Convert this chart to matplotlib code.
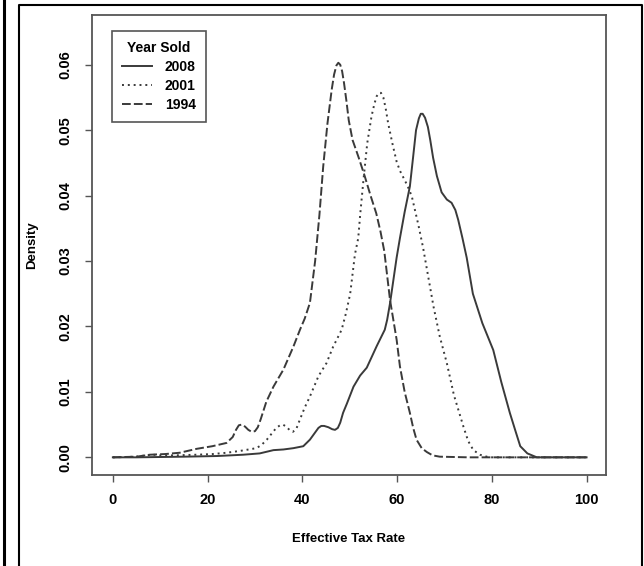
import matplotlib
matplotlib.use("Agg")
import matplotlib.pyplot as plt
from matplotlib.lines import Line2D

plt.rcParams['font.family'] = ['Liberation Sans', 'DejaVu Sans']
plt.rcParams['font.weight'] = 'bold'

# density curves (effective tax rate vs density)
x2008 = [0, 5, 15, 22, 27.5, 31, 33.9, 36, 38.1, 40.2, 41.6, 42.7, 43.4, 44.0, 44.6,
         45.5, 46.3, 46.9, 47.5, 48.0, 48.6, 49.4, 50.8, 52.2, 53.6, 55.7, 57.4, 57.9,
         58.5, 59.2, 59.9, 60.6, 61.6, 62.7, 63.4, 64.0, 64.6, 65.0, 65.4, 65.9, 66.5,
         67.0, 67.6, 68.4, 69.4, 70.5, 71.5, 72.3, 72.9, 73.8, 74.7, 76, 78, 80.3, 82,
         83.8, 85, 86, 87.5, 89.5, 100]
y2008 = [0, 0, 0.0001, 0.0002, 0.0004, 0.0006, 0.0011, 0.0012, 0.0014, 0.0017, 0.0027,
         0.0038, 0.0045, 0.0048, 0.0048, 0.0046, 0.0043, 0.0042, 0.0045, 0.0053, 0.0068,
         0.0082, 0.0108, 0.0125, 0.0137, 0.0170, 0.0195, 0.0210, 0.0235, 0.0270, 0.0305,
         0.0335, 0.0375, 0.0414, 0.0460, 0.0500, 0.0518, 0.0525, 0.0525, 0.0519, 0.0505,
         0.0485, 0.0458, 0.0430, 0.0405, 0.0394, 0.0389, 0.0378, 0.0363, 0.0335, 0.0305,
         0.0250, 0.0205, 0.0164, 0.0115, 0.0068, 0.0040, 0.0017, 0.0006, 0, 0]

x2001 = [0, 5, 7, 8.5, 10, 13, 17.7, 21, 24, 27, 30.3, 31.4, 32.5, 33.5, 34.5, 35.3,
         35.9, 36.6, 37.4, 38.0, 38.7, 39.5, 40.5, 41.6, 43.4, 45.1, 46.5, 48.3, 49.2,
         50.1, 51.1, 51.8, 52.2, 52.9, 53.7, 54.6, 55.2, 55.7, 56.2, 56.6, 57.1, 57.6,
         58.1, 59, 59.9, 60.6, 61.3, 62.2, 63.1, 64.5, 65.5, 67.7, 69, 70.5, 72, 74, 75,
         76.1, 77.5, 79.4, 85, 100]
y2001 = [0, 0.0001, 0.0003, 0.0004, 0.0003, 0.0003, 0.0004, 0.0005, 0.0007, 0.0010,
         0.0014, 0.0019, 0.0027, 0.0036, 0.0045, 0.0049, 0.0050, 0.0047, 0.0041, 0.0039,
         0.0043, 0.0058, 0.0076, 0.0093, 0.0124, 0.0144, 0.0169, 0.0195, 0.0220, 0.0250,
         0.0310, 0.0335, 0.0370, 0.0424, 0.0480, 0.0521, 0.0540, 0.0552, 0.0557, 0.0557,
         0.0550, 0.0533, 0.0511, 0.0480, 0.0452, 0.0438, 0.0428, 0.0415, 0.0399, 0.0355,
         0.0320, 0.0230, 0.0185, 0.0144, 0.0095, 0.0047, 0.0025, 0.0011, 0.0004, 0, 0, 0]

x1994 = [0, 5, 7.8, 11, 14.1, 17.7, 21, 24, 25.3, 26.0, 26.6, 27.2, 27.9, 28.6, 29.3,
         30.0, 30.6, 31.2, 32.4, 33.9, 36, 38.1, 39.5, 40.5, 41.6, 42.7, 43.6, 44.4, 45.3,
         46.2, 46.7, 47.2, 47.6, 48.0, 48.4, 48.8, 49.3, 49.8, 50.6, 51.9, 53.2, 54.4,
         55.6, 56.5, 57.3, 58.5, 59.9, 60.6, 61.6, 62.7, 63.4, 64.1, 65.2, 66.3, 67.5,
         69, 75, 100]
y1994 = [0, 0.0001, 0.0004, 0.0005, 0.0007, 0.0013, 0.0017, 0.0022, 0.0031, 0.0042,
         0.0049, 0.0050, 0.0047, 0.0042, 0.0039, 0.0040, 0.0046, 0.0058, 0.0085, 0.0108,
         0.0134, 0.0169, 0.0195, 0.0212, 0.0236, 0.0300, 0.0370, 0.0444, 0.0510, 0.0562,
         0.0585, 0.0599, 0.0603, 0.0600, 0.0590, 0.0572, 0.0545, 0.0515, 0.0485, 0.0458,
         0.0429, 0.0400, 0.0373, 0.0345, 0.0315, 0.0241, 0.0180, 0.0139, 0.0100, 0.0068,
         0.0045, 0.0027, 0.0014, 0.0008, 0.0003, 0.0001, 0, 0]

xticks = [0, 20, 40, 60, 80, 100]
yticks = [0.00, 0.01, 0.02, 0.03, 0.04, 0.05, 0.06]

W, H = 644, 566
fig = plt.figure(figsize=(W / 100, H / 100), dpi=100)
ax = fig.add_axes([92 / W, 1 - 475 / H, 514 / W, 460 / H])

lc = '#3a3a3a'
ax.plot(x2008, y2008, color=lc, lw=1.4, ls='-', label='2008')
ax.plot(x2001, y2001, color=lc, lw=1.4, ls=(0, (1, 2)), label='2001')
ax.plot(x1994, y1994, color=lc, lw=1.4, ls=(0, (4.5, 1.6)), label='1994')

ax.set_xlim(-4.4, 104.1)
ax.set_ylim(-0.0027, 0.0676)
ax.set_xticks(xticks)
ax.set_yticks(yticks)
ax.set_yticklabels(['%.2f' % v for v in yticks], rotation=90, va='center')

for s in ax.spines.values():
  s.set_color('#555555')
  s.set_linewidth(1.3)
ax.tick_params(direction='out', length=5, width=1, color='#555555', labelsize=10.5)
ax.tick_params(axis='x', pad=8)
ax.tick_params(axis='y', pad=9)

ax.set_xlabel('Effective Tax Rate', fontsize=9.5, fontweight='bold', labelpad=19)
ax.set_ylabel('Density', fontsize=9.5, fontweight='bold', labelpad=15)

leg = ax.legend(title='Year Sold', loc='upper left', bbox_to_anchor=(0.039, 0.965),
                borderaxespad=0, fancybox=False, edgecolor='#555555', framealpha=1,
                fontsize=10, handlelength=2.2, handletextpad=0.9, labelspacing=0.36,
                borderpad=0.7)
leg.get_title().set_fontweight('bold')
leg.get_title().set_fontsize(10)
leg.get_frame().set_linewidth(1.2)

# page frame around the figure
def fx(px):
  return px / W
def fy(py):
  return 1 - py / H

fig.add_artist(Line2D([fx(3.5), fx(3.5)], [0, 1], color='black', lw=2.2))
fig.add_artist(Line2D([fx(18.5), fx(18.5), fx(642), fx(642)], [0, fy(5), fy(5), 0],
                      color='black', lw=1.5))

fig.savefig('out.png', dpi=100)
